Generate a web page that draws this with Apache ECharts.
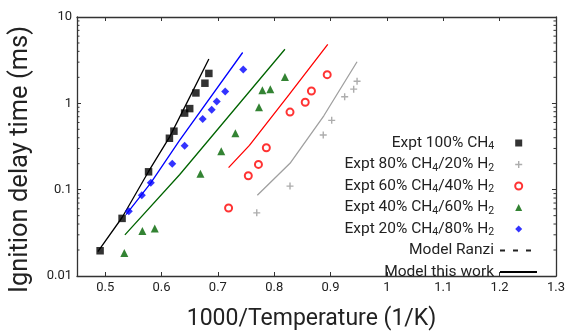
<!DOCTYPE html>
<html>
<head>
<meta charset="utf-8">
<script src="https://cdn.jsdelivr.net/npm/echarts@6/dist/echarts.min.js"></script>
<style>
  html, body { margin: 0; padding: 0; background: #fff; }
  #chart { width: 568px; height: 336px; }
</style>
</head>
<body>
<div id="chart"></div>
<script>
// Ignition delay times vs inverse temperature, CH4/H2 blends
const xMin = 0.45, xMax = 1.3;
const yMin = 0.01, yMax = 10;

// Experimental points (1000/T in 1/K, delay in ms)
const expt100X = [0.491, 0.530, 0.577, 0.614, 0.622, 0.641, 0.650, 0.661, 0.677, 0.684];
const expt100Y = [0.0196, 0.0465, 0.161, 0.394, 0.476, 0.771, 0.869, 1.32, 1.71, 2.22];

const expt80X = [0.769, 0.828, 0.887, 0.902, 0.925, 0.941, 0.947];
const expt80Y = [0.0539, 0.110, 0.430, 0.635, 1.19, 1.46, 1.80];

const expt60X = [0.719, 0.754, 0.772, 0.786, 0.828, 0.855, 0.866, 0.894];
const expt60Y = [0.0614, 0.145, 0.196, 0.306, 0.791, 1.03, 1.39, 2.15];

const expt40X = [0.534, 0.566, 0.588, 0.669, 0.706, 0.731, 0.773, 0.779, 0.793, 0.819];
const expt40Y = [0.0185, 0.0331, 0.0355, 0.153, 0.279, 0.449, 0.901, 1.42, 1.46, 2.02];

const expt20X = [0.542, 0.565, 0.581, 0.619, 0.641, 0.673, 0.689, 0.698, 0.713, 0.745];
const expt20Y = [0.0562, 0.0861, 0.120, 0.200, 0.323, 0.659, 0.840, 1.05, 1.37, 2.47];

// Model predictions (this work)
const model100X = [0.487, 0.530, 0.577, 0.615, 0.636, 0.684];
const model100Y = [0.0191, 0.0476, 0.1625, 0.415, 0.776, 3.26];

const model80X = [0.770, 0.828, 0.888, 0.947];
const model80Y = [0.0861, 0.202, 0.718, 3.03];

const model60X = [0.719, 0.756, 0.826, 0.895];
const model60Y = [0.180, 0.326, 1.25, 4.82];

const model40X = [0.535, 0.632, 0.819];
const model40Y = [0.0299, 0.149, 4.23];

const model20X = [0.537, 0.581, 0.632, 0.744];
const model20Y = [0.0515, 0.120, 0.372, 3.88];

const exptNames = [
  'Expt 100% CH4',
  'Expt 80% CH4/20% H2',
  'Expt 60% CH4/40% H2',
  'Expt 40% CH4/60% H2',
  'Expt 20% CH4/80% H2'
];
const modelNames = ['Model Ranzi', 'Model this work'];

// log-axis minor tick positions (2..9 within each decade)
const minorTickValues = [];
for (let e = -2; e < 1; e++) {
  for (let m = 2; m <= 9; m++) minorTickValues.push(+(m * Math.pow(10, e)).toPrecision(3));
}

const pairs = (xs, ys) => xs.map((x, i) => [x, ys[i]]);
const FONT = 'Roboto';
const INK = '#222';
const FRAME = '#333';

const plusPath = 'path://M3.2,0H4.8V3.2H8V4.8H4.8V8H3.2V4.8H0V3.2H3.2Z';

function scatter(name, xs, ys, symbol, size, color, extra) {
  return Object.assign({
    name, type: 'scatter', data: pairs(xs, ys),
    symbol, symbolSize: size,
    itemStyle: { color },
    z: 4
  }, extra || {});
}
function modelLine(name, xs, ys, color) {
  return {
    name, type: 'line', data: pairs(xs, ys),
    symbol: 'none', smooth: false,
    lineStyle: { color, width: 1.3 },
    z: 3
  };
}

const legendText = (padRight) => ({
  fontFamily: FONT, fontSize: 15.5, color: INK, lineHeight: 18, padding: [0, padRight, 0, 0],
  rich: { sub: { fontFamily: FONT, fontSize: 10.5, color: INK, lineHeight: 18, verticalAlign: 'bottom' } }
});
const withSubscripts = n => n.replace(/CH4/g, 'CH{sub|4}').replace(/H2/g, 'H{sub|2}');

const chart = echarts.init(document.getElementById('chart'), null, { renderer: 'canvas' });

const option = {
  backgroundColor: '#fff',
  animation: false,
  grid: { left: 77, right: 10, top: 17, bottom: 54, containLabel: false },
  xAxis: [{
    type: 'value', min: xMin, max: xMax, splitNumber: 8,
    name: '1000/Temperature (1/K)', nameLocation: 'middle', nameGap: 32,
    nameTextStyle: { fontFamily: FONT, fontSize: 23, color: INK, padding: [0, 10, 0, 0] },
    axisLine: { show: true, lineStyle: { color: FRAME, width: 1.3 } },
    axisTick: { show: true, inside: true, length: 4, lineStyle: { color: FRAME } },
    axisLabel: { fontFamily: FONT, fontSize: 13, color: INK, margin: 5, showMinLabel: false,
      formatter: v => String(+v.toFixed(2)) },
    splitLine: { show: false }
  }, {
    type: 'value', min: xMin, max: xMax, splitNumber: 8, position: 'top',
    axisLine: { show: true, lineStyle: { color: FRAME, width: 1.3 } },
    axisTick: { show: true, inside: true, length: 4, lineStyle: { color: FRAME } },
    axisLabel: { show: false },
    splitLine: { show: false }
  }],
  yAxis: [{
    type: 'log', logBase: 10, min: yMin, max: yMax,
    name: 'Ignition delay time (ms)', nameLocation: 'middle', nameGap: 43,
    nameTextStyle: { fontFamily: FONT, fontSize: 25.5, color: INK, padding: [0, 26, 0, 0] },
    axisLine: { show: true, lineStyle: { color: FRAME, width: 1.3 } },
    axisTick: { show: true, inside: true, length: 4, lineStyle: { color: FRAME } },
    axisLabel: { fontFamily: FONT, fontSize: 13, color: INK, margin: 5 },
    splitLine: { show: false }
  }, {
    type: 'log', logBase: 10, min: yMin, max: yMax, position: 'right',
    axisLine: { show: true, lineStyle: { color: FRAME, width: 1.3 } },
    axisTick: { show: true, inside: true, length: 4, lineStyle: { color: FRAME } },
    axisLabel: { show: false },
    splitLine: { show: false }
  }],
  legend: [{
    // experimental markers
    orient: 'vertical', align: 'right', right: 39.8, top: 129,
    itemWidth: 7, itemHeight: 7, itemGap: 3.5,
    data: exptNames, selectedMode: false,
    textStyle: legendText(16),
    formatter: withSubscripts
  }, {
    // model line styles
    orient: 'vertical', align: 'right', right: 25, top: 236.5,
    itemWidth: 37, itemHeight: 7, itemGap: 3.5,
    data: modelNames, selectedMode: false,
    textStyle: legendText(1),
    formatter: withSubscripts
  }],
  series: [
    scatter('Expt 100% CH4', expt100X, expt100Y, 'rect', 7.5, '#000'),
    scatter('Expt 80% CH4/20% H2', expt80X, expt80Y, plusPath, 7, '#999'),
    scatter('Expt 60% CH4/40% H2', expt60X, expt60Y, 'emptyCircle', 7,  '#ff0000',
      { itemStyle: { color: '#ff0000', borderColor: '#ff0000', borderWidth: 1.5 } }),
    scatter('Expt 40% CH4/60% H2', expt40X, expt40Y, 'triangle', 8, '#006400'),
    scatter('Expt 20% CH4/80% H2', expt20X, expt20Y, 'diamond', 8, '#0000ff'),
    modelLine('Model 100% CH4', model100X, model100Y, '#000'),
    modelLine('Model 80% CH4', model80X, model80Y, '#a0a0a0'),
    modelLine('Model 60% CH4', model60X, model60Y, '#ff0000'),
    modelLine('Model 40% CH4', model40X, model40Y, '#006400'),
    modelLine('Model 20% CH4', model20X, model20Y, '#0000ff'),
    { name: 'Model Ranzi', type: 'line', data: [], symbol: 'none',
      itemStyle: { opacity: 0 },
      lineStyle: { color: '#222', width: 1.3, type: [5, 8] } },
    { name: 'Model this work', type: 'line', data: [], symbol: 'none',
      itemStyle: { opacity: 0 },
      lineStyle: { color: '#000', width: 1.3 } },
    {
      // log minor ticks on left and right frame edges
      name: 'minorTicks', type: 'custom', silent: true, clip: false, z: 5,
      data: minorTickValues.map(v => [xMin, v]),
      renderItem: (params, api) => {
        const l = api.coord([xMin, api.value(1)]);
        const r = api.coord([xMax, api.value(1)]);
        const st = { stroke: FRAME, lineWidth: 1 };
        return { type: 'group', children: [
          { type: 'line', shape: { x1: l[0], y1: l[1], x2: l[0] + 2.5, y2: l[1] }, style: st },
          { type: 'line', shape: { x1: r[0], y1: r[1], x2: r[0] - 2.5, y2: r[1] }, style: st }
        ] };
      }
    }
  ]
};

chart.setOption(option);
</script>
</body>
</html>
